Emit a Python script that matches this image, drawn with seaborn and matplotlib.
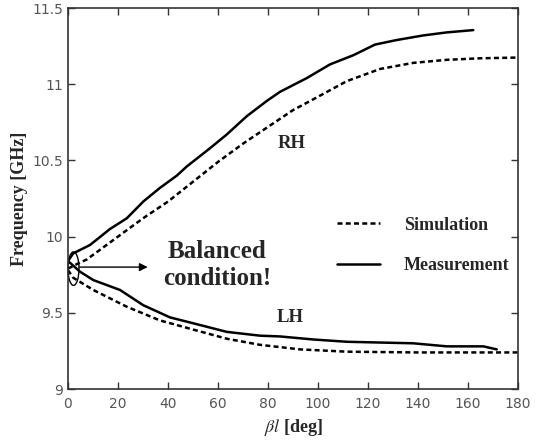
import numpy as np
import pandas as pd
import matplotlib.pyplot as plt
import seaborn as sns
from matplotlib.patches import Ellipse

# curve data (beta*l in deg, frequency in GHz)
meas_rh_x = [0, 2.1, 8.8, 16.8, 23.5, 30.1, 36.8, 43.5, 47.5, 56.8, 63.5, 71.5, 79.5,
             84.8, 95.5, 104.8, 114.1, 122.8, 131.5, 142.1, 151.5, 162.1]
meas_rh_y = [9.84, 9.89, 9.945, 10.05, 10.12, 10.23, 10.32, 10.40, 10.46, 10.58, 10.67, 10.79, 10.89,
             10.95, 11.04, 11.13, 11.19, 11.26, 11.29, 11.32, 11.34, 11.355]

sim_rh_x = [0, 3.6, 7.5, 20, 30, 40, 50, 60, 70, 80, 90, 98, 111.5, 124.8, 138.1,
            151.5, 164.8, 180]
sim_rh_y = [9.79, 9.82, 9.85, 10.00, 10.12, 10.23, 10.36, 10.49, 10.61, 10.72, 10.83, 10.90, 11.02,
            11.10, 11.14, 11.16, 11.17, 11.175]

meas_lh_x = [0, 4.8, 10.1, 20.8, 30.1, 40.8, 52.8, 63.5, 76.8, 84.8, 98.1, 111.5, 124.8,
             138.1, 151.5, 166.1, 171.5]
meas_lh_y = [9.84, 9.77, 9.715, 9.65, 9.55, 9.47, 9.42, 9.375, 9.35, 9.345, 9.325, 9.31, 9.305,
             9.30, 9.28, 9.28, 9.26]

sim_lh_x = [0, 2.1, 10.1, 23.5, 36.8, 50.1, 63.5, 76.8, 92.8, 111.5, 140, 180]
sim_lh_y = [9.78, 9.73, 9.65, 9.54, 9.45, 9.39, 9.33, 9.29, 9.26, 9.245, 9.24, 9.24]

sns.set_style("ticks")
plt.rcParams['font.family'] = ['DejaVu Sans']
plt.rcParams['mathtext.fontset'] = 'stix'

fig = plt.figure(figsize=(5.47, 4.45), dpi=100)
ax = fig.add_axes([0.1243, 0.1258, 0.8227, 0.8562])

sim = pd.DataFrame({'x': sim_rh_x + sim_lh_x, 'y': sim_rh_y + sim_lh_y,
                    'branch': ['RH'] * len(sim_rh_x) + ['LH'] * len(sim_lh_x)})
meas = pd.DataFrame({'x': meas_rh_x + meas_lh_x, 'y': meas_rh_y + meas_lh_y,
                     'branch': ['RH'] * len(meas_rh_x) + ['LH'] * len(meas_lh_x)})

for b in ['RH', 'LH']:
    d = sim[sim.branch == b]
    sns.lineplot(data=d, x='x', y='y', ax=ax, color='black', lw=1.8,
                 linestyle=(0, (2, 1.3)), sort=False, estimator=None,
                 label='Simulation' if b == 'RH' else None)
for b in ['RH', 'LH']:
    d = meas[meas.branch == b]
    sns.lineplot(data=d, x='x', y='y', ax=ax, color='black', lw=1.8,
                 sort=False, estimator=None,
                 label='Measurement' if b == 'RH' else None)

ax.set_xlim(0, 180)
ax.set_ylim(9, 11.5)
ax.set_xticks(range(0, 181, 20))
ax.set_yticks([9, 9.5, 10, 10.5, 11, 11.5])
ax.set_yticklabels(['9', '9.5', '10', '10.5', '11', '11.5'])
ax.tick_params(direction='in', top=True, right=True, length=5, width=1,
               labelsize=10, labelcolor='#555555', colors='#333333')
ax.tick_params(axis='x', pad=6)
for s in ax.spines.values():
    s.set_linewidth(1.2)
    s.set_color('#333333')

serif = ['Liberation Serif', 'DejaVu Serif']
ax.set_ylabel('Frequency [GHz]', family=serif, fontweight='bold', fontsize=13, labelpad=3)
ax.set_xlabel(r'$\beta l$ [deg]', family=serif, fontweight='bold', fontsize=13, labelpad=4)

leg = ax.legend(loc='upper left', bbox_to_anchor=(0.598, 0.452), frameon=False,
                borderpad=0, borderaxespad=0,
                prop={'family': serif, 'weight': 'bold', 'size': 13},
                handlelength=2.4, handletextpad=1.3, labelspacing=1.3)

ax.text(89.6, 10.61, 'RH', family=serif, fontweight='bold', fontsize=13.5,
        ha='center', va='center')
ax.text(89, 9.47, 'LH', family=serif, fontweight='bold', fontsize=13.5,
        ha='center', va='center')
ax.text(59.6, 9.815, 'Balanced\ncondition!', family=serif, fontweight='bold', fontsize=18,
        ha='center', va='center', linespacing=1.2)
ax.add_patch(Ellipse((2.2, 9.79), 4.4, 0.22, fill=False, lw=1.0, color='black', clip_on=False))
ax.annotate('', xy=(33, 9.8), xytext=(3.5, 9.8),
            arrowprops=dict(arrowstyle='-|>', color='black', lw=1.0, mutation_scale=12))

fig.savefig('out.png', dpi=100)
